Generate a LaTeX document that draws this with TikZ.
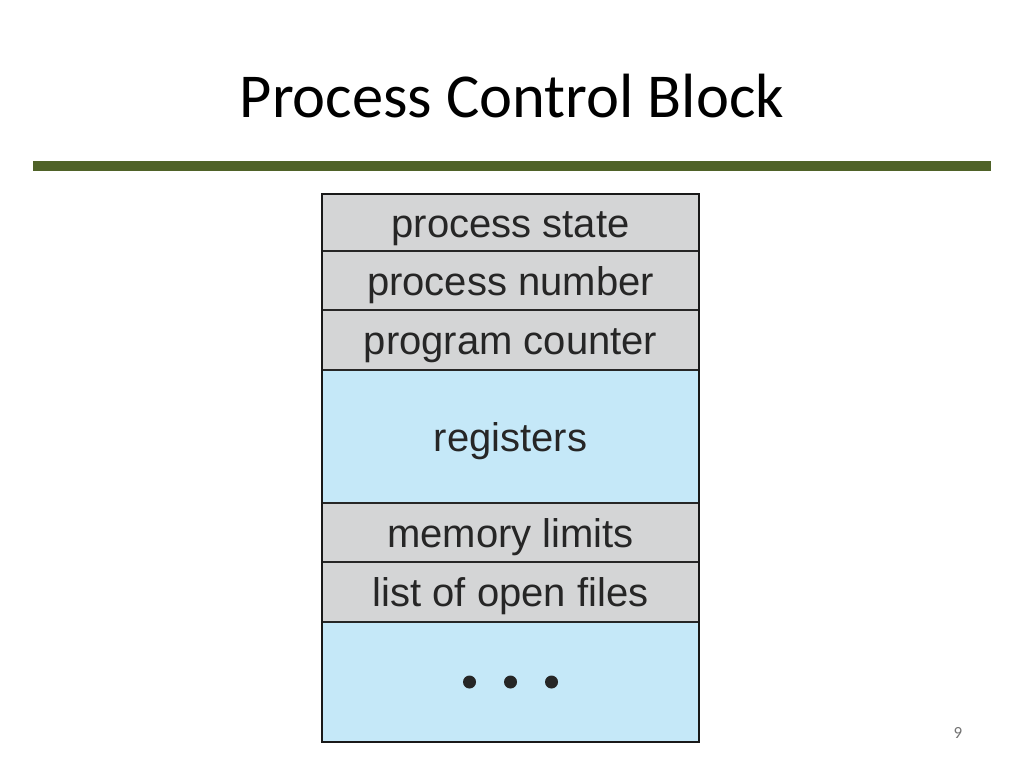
\documentclass[tikz,border=0pt]{standalone}
\usepackage{fontspec}
\setmainfont{Liberation Sans}
\newfontfamily\titlefont{Carlito}
\definecolor{pcbgray}{HTML}{D4D5D6}
\definecolor{pcbblue}{HTML}{C5E8F8}
\definecolor{barolive}{HTML}{4F6228}
\begin{document}
\begin{tikzpicture}[x=1pt,y=-1pt,
  field/.style={draw=black!85, line width=1.2pt, outer sep=0pt, minimum width=377pt, inner sep=0pt, text height=29pt, text depth=0pt, font=\fontsize{40}{40}\selectfont, text=black!85},
  grayfield/.style={field, fill=pcbgray},
  bluefield/.style={field, fill=pcbblue},
  dot/.style={circle, fill=black!85, inner sep=0pt, minimum size=13pt}]
\useasboundingbox (0,0) rectangle (1024,768);
\fill[white] (0,0) rectangle (1024,768);
\node[font=\titlefont\fontsize{62.5}{62.5}\selectfont, text=black, anchor=base] (title) at (512,117) {Process Control Block};
\fill[barolive] (33,161) rectangle (991,171);
\node[grayfield, minimum height=57pt, anchor=north west] (state) at (322,194) {process state};
\node[grayfield, minimum height=59pt, anchor=north] (number) at (state.south) {process number};
\node[grayfield, minimum height=60pt, anchor=north] (counter) at (number.south) {program counter};
\node[bluefield, minimum height=133pt, anchor=north] (regs) at (counter.south) {registers};
\node[grayfield, minimum height=59pt, anchor=north] (mem) at (regs.south) {memory limits};
\node[grayfield, minimum height=60pt, anchor=north] (files) at (mem.south) {list of open files};
\node[bluefield, minimum height=120pt, anchor=north] (more) at (files.south) {};
\draw[black!90, line width=2.5pt] (state.north west) rectangle (more.south east);
\node[dot] (d1) at ([xshift=-41pt,yshift=-60pt]more.north) {};
\node[dot] (d2) at ([yshift=-60pt]more.north) {};
\node[dot] (d3) at ([xshift=41pt,yshift=-60pt]more.north) {};
\node[font=\titlefont\fontsize{17}{17}\selectfont, text=black!55] (page) at (958,733) {9};
\end{tikzpicture}
\end{document}
